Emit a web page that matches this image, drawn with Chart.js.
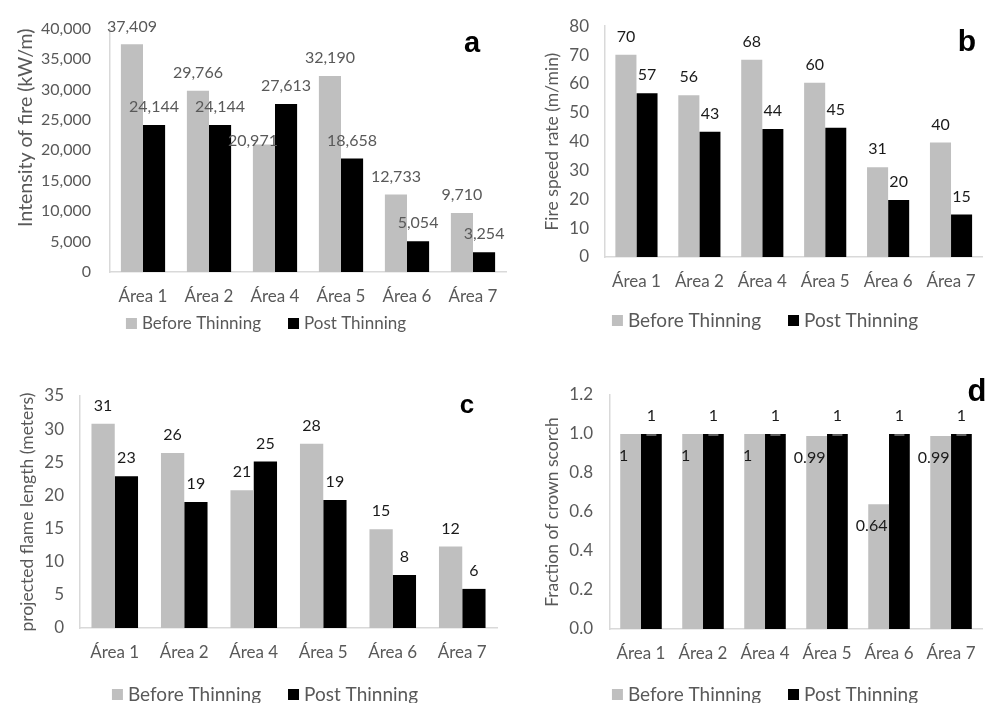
<!DOCTYPE html>
<html>
<head>
<meta charset="utf-8">
<script src="https://cdn.jsdelivr.net/npm/chart.js@4.4.0/dist/chart.umd.min.js"></script>
<style>
  body { margin: 0; background: #fff; width: 990px; height: 703px; overflow: hidden; position: relative; }
  .panel { position: absolute; }
</style>
</head>
<body>
<div class="panel" style="left:0;top:0;width:515px;height:340px"><canvas id="graficoA"></canvas></div>
<div class="panel" style="left:540px;top:0;width:450px;height:340px"><canvas id="graficoB"></canvas></div>
<div class="panel" style="left:0;top:340px;width:515px;height:363px"><canvas id="graficoC"></canvas></div>
<div class="panel" style="left:540px;top:340px;width:450px;height:363px"><canvas id="graficoD"></canvas></div>
<script>
// categorias
const areas = ['Área 1', 'Área 2', 'Área 4', 'Área 5', 'Área 6', 'Área 7'];
const series = ['Before Thinning', 'Post Thinning'];

// a - intensidad del fuego (kW/m)
const intensidadAntes = [37409, 29766, 20971, 32190, 12733, 9710];
const intensidadDespues = [24144, 24144, 27613, 18658, 5054, 3254];
// b - velocidad (m/min), etiquetas redondeadas
const velocidadAntes = [70.1, 56.1, 68.4, 60.4, 31.1, 39.7];
const velocidadDespues = [56.8, 43.4, 44.4, 44.8, 19.8, 14.7];
// c - longitud de llama (m)
const llamaAntes = [30.8, 26.4, 20.8, 27.8, 14.9, 12.3];
const llamaDespues = [22.9, 19.0, 25.1, 19.3, 8.0, 5.9];
// d - fraccion de copa quemada
const copaAntes = [1, 1, 1, 0.99, 0.64, 0.99];
const copaDespues = [1, 1, 1, 1, 1, 1];

Chart.defaults.font.family = 'Lato';
Chart.defaults.color = '#595959';

const gris = '#bfbfbf';
const negro = '#000000';

// etiquetas de datos, letra del panel y leyenda
const hacerPlugin = (p) => ({
  id: 'extras',
  afterDatasetsDraw(chart) {
    const ctx = chart.ctx;
    ctx.save();
    ctx.textAlign = 'center';
    ctx.textBaseline = 'middle';
    ctx.font = '16px Lato';
    ctx.fillStyle = p.colorEtiqueta;
    chart.data.datasets.forEach((ds, i) => {
      chart.getDatasetMeta(i).data.forEach((bar, j) => {
        let d = [0, -18];
        if (p.mover) d = p.mover(i, j) || d;
        if (p.errores && i == 1) {
          ctx.strokeStyle = '#7f7f7f';
          ctx.lineWidth = 1.5;
          ctx.beginPath();
          ctx.moveTo(bar.x - 5, bar.y + 1);
          ctx.lineTo(bar.x + 5, bar.y + 1);
          ctx.stroke();
        }
        ctx.fillText(p.formato(ds.data[j]), bar.x + d[0], bar.y + d[1]);
      });
    });
    // letra
    ctx.fillStyle = '#000';
    ctx.font = 'bold ' + p.letraTam + 'px "Liberation Sans"';
    ctx.fillText(p.letra, p.letraX, p.letraY);
    // leyenda
    ctx.font = p.leyendaTam + 'px Lato';
    ctx.textAlign = 'left';
    const w1 = ctx.measureText(series[0]).width;
    const w2 = ctx.measureText(series[1]).width;
    const total = 11 + 5 + w1 + 27 + 11 + 5 + w2;
    let x = p.leyendaX - total / 2;
    const y = p.leyendaY;
    ctx.fillStyle = gris;
    ctx.fillRect(x, y - 6, 11, 11);
    ctx.fillStyle = '#595959';
    ctx.fillText(series[0], x + 16, y);
    x += 16 + w1 + 27;
    ctx.fillStyle = negro;
    ctx.fillRect(x, y - 6, 11, 11);
    ctx.fillStyle = '#595959';
    ctx.fillText(series[1], x + 16, y);
    ctx.restore();
  }
});

const crearGrafico = (id, antes, despues, p) => {
  return new Chart(id, {
    type: 'bar',
    data: {
      labels: areas,
      datasets: [
        { label: series[0], data: antes, backgroundColor: gris },
        { label: series[1], data: despues, backgroundColor: negro }
      ]
    },
    options: {
      responsive: true,
      maintainAspectRatio: false,
      animation: false,
      layout: { padding: p.padding },
      datasets: { bar: { categoryPercentage: 0.67, barPercentage: 1 } },
      plugins: { legend: { display: false }, tooltip: { enabled: false } },
      scales: {
        x: {
          grid: { display: false, drawTicks: false },
          border: { color: '#d9d9d9', width: 1.5 },
          ticks: { padding: 14, font: { size: 17 } },
          afterFit: (s) => { s.height = 30; }
        },
        y: {
          min: 0, max: p.max,
          grid: { display: false, drawTicks: false },
          border: { color: '#d9d9d9', width: 1.5 },
          ticks: { stepSize: p.paso, padding: p.tickPad, font: { size: p.tickTam }, callback: p.tick },
          title: { display: true, text: p.titulo, align: p.tituloAlign || 'center', font: { size: p.tituloTam }, padding: { top: p.tituloPad, bottom: 0 } },
          afterFit: (s) => { s.width = p.ancho; }
        }
      }
    },
    plugins: [hacerPlugin(p)]
  });
};

crearGrafico('graficoA', intensidadAntes, intensidadDespues, {
  padding: { top: 20, right: 9, left: 0, bottom: 38 }, ancho: 110,
  max: 40000, paso: 5000, tickPad: 19, tickTam: 16,
  tick: (v) => v.toLocaleString('en-US'),
  titulo: 'Intensity of fire (kW/m)', tituloTam: 19.5, tituloPad: 14, tituloAlign: 'end',
  formato: (v) => v.toLocaleString('en-US'), colorEtiqueta: '#595959',
  mover: (i, j) => (i == 0 && j == 2 ? [-11, -4] : null),
  letra: 'a', letraTam: 29, letraX: 472, letraY: 44,
  leyendaTam: 17, leyendaX: 266, leyendaY: 324
});

crearGrafico('graficoB', velocidadAntes, velocidadDespues, {
  padding: { top: 23, right: 6, left: 0, bottom: 53 }, ancho: 65,
  max: 80, paso: 10, tickPad: 16, tickTam: 17,
  tick: (v) => v,
  titulo: 'Fire speed rate (m/min)', tituloTam: 17.5, tituloPad: 2,
  formato: (v) => Math.round(v), colorEtiqueta: '#1a1a1a',
  letra: 'b', letraTam: 30, letraX: 427, letraY: 43,
  leyendaTam: 19, leyendaX: 225, leyendaY: 321
});

crearGrafico('graficoC', llamaAntes, llamaDespues, {
  padding: { top: 56, right: 18, left: 0, bottom: 45 }, ancho: 80,
  max: 35, paso: 5, tickPad: 16, tickTam: 17,
  tick: (v) => v,
  titulo: 'projected flame length (meters)', tituloTam: 17.5, tituloPad: 17,
  formato: (v) => Math.round(v), colorEtiqueta: '#1a1a1a',
  letra: 'c', letraTam: 26, letraX: 467, letraY: 66,
  leyendaTam: 19, leyendaX: 265, leyendaY: 355
});

crearGrafico('graficoD', copaAntes, copaDespues, {
  padding: { top: 55, right: 6, left: 0, bottom: 44 }, ancho: 70,
  max: 1.2, paso: 0.2, tickPad: 17, tickTam: 17,
  tick: (v) => v.toFixed(1),
  titulo: 'Fraction of crown scorch', tituloTam: 17.5, tituloPad: 2,
  formato: (v) => String(v), colorEtiqueta: '#1a1a1a',
  mover: (i, j) => (i == 0 ? [-7, 22] : null),
  errores: true,
  letra: 'd', letraTam: 31, letraX: 437, letraY: 52,
  leyendaTam: 19, leyendaX: 225, leyendaY: 355
});
</script>
</body>
</html>
